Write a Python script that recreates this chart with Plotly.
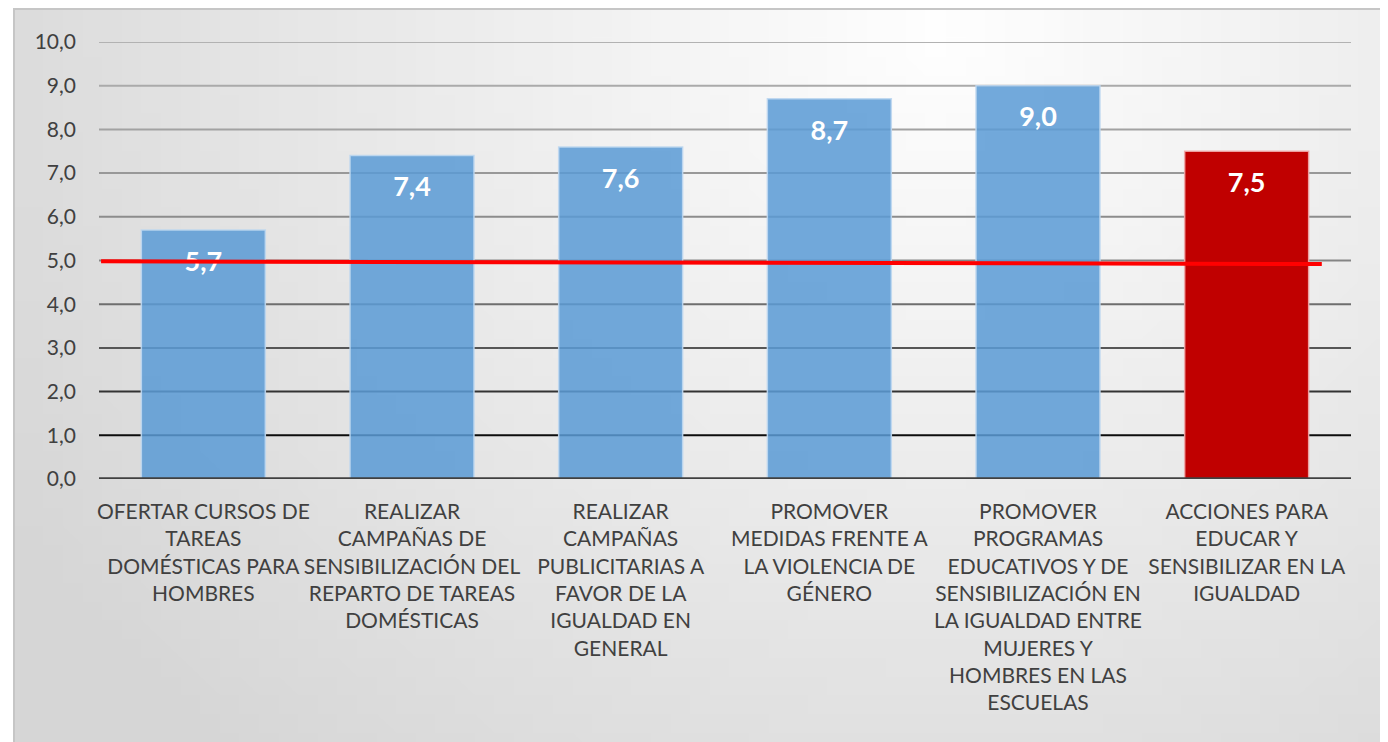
import base64, struct, zlib, math
import plotly.graph_objects as go

# ---------------- data ----------------
categories = [
    "OFERTAR CURSOS DE<br>TAREAS<br>DOMÉSTICAS PARA<br>HOMBRES",
    "REALIZAR<br>CAMPAÑAS DE<br>SENSIBILIZACIÓN DEL<br>REPARTO DE TAREAS<br>DOMÉSTICAS",
    "REALIZAR<br>CAMPAÑAS<br>PUBLICITARIAS A<br>FAVOR DE LA<br>IGUALDAD EN<br>GENERAL",
    "PROMOVER<br>MEDIDAS FRENTE A<br>LA VIOLENCIA DE<br>GÉNERO",
    "PROMOVER<br>PROGRAMAS<br>EDUCATIVOS Y DE<br>SENSIBILIZACIÓN EN<br>LA IGUALDAD ENTRE<br>MUJERES Y<br>HOMBRES EN LAS<br>ESCUELAS",
    "ACCIONES PARA<br>EDUCAR Y<br>SENSIBILIZAR EN LA<br>IGUALDAD",
]
values = [5.7, 7.4, 7.6, 8.7, 9.0, 7.5]
y_ticks = [0, 1, 2, 3, 4, 5, 6, 7, 8, 9, 10]
ref_line_x = [-0.49, 5.36]
ref_line_y = [4.98, 4.92]

# ---------------- styling ----------------
OFF = 8  # default page body margin
W, H = 1388 - OFF, 742 - OFF
L = 99 - OFF
R = W - (1351 - OFF)
T = 42 - OFF
B = H - (479 - OFF)
pw, ph = W - L - R, H - T - B
bar_colors = ["rgba(91,155,213,0.86)"] * 5 + ["#C00000"]
bar_lines = ["rgba(190,215,240,0.9)"] * 5 + ["rgba(240,170,170,0.9)"]
grid_colors = {1: "#0d0d0d", 2: "#333333", 3: "#565656", 4: "#6e6e6e", 5: "#858585",
               6: "#8c8c8c", 7: "#989898", 8: "#a2a2a2", 9: "#aaaaaa", 10: "#b2b2b2"}
FONT = "Lato"

def px2paper_x(px):
    return (px - OFF - L) / pw

def px2paper_y(py):
    return (H - B - (py - OFF)) / ph

# background gradient image (styling only)
def make_png(w, h):
    raw = b""
    cx, cy, rx, ry = 930 / 1372, 20 / 754, 980 / 1372, 880 / 754
    for j in range(h):
        row = b"\x00"
        for i in range(w):
            u, v = i / (w - 1), j / (h - 1)
            r = math.sqrt(((u - cx) / rx) ** 2 + ((v - cy) / ry) ** 2)
            c = int(max(214, 255 - 36 * min(r, 1.25)))
            row += bytes([c, c, c])
        raw += row
    def chunk(t, d):
        return struct.pack(">I", len(d)) + t + d + struct.pack(">I", zlib.crc32(t + d) & 0xffffffff)
    png = b"\x89PNG\r\n\x1a\n" + chunk(b"IHDR", struct.pack(">IIBBBBB", w, h, 8, 2, 0, 0, 0)) \
        + chunk(b"IDAT", zlib.compress(raw)) + chunk(b"IEND", b"")
    return "data:image/png;base64," + base64.b64encode(png).decode()

fx0, fx1 = px2paper_x(14), px2paper_x(1386)
fy1, fy0 = px2paper_y(9), px2paper_y(760)

x_idx = list(range(len(categories)))
label_offset = 34 / (ph / 10)

fig = go.Figure()
fig.add_trace(go.Bar(
    x=x_idx, y=values, width=0.594,
    marker=dict(color=bar_colors, line=dict(color=bar_lines, width=1.5)),
    hoverinfo="skip", showlegend=False,
))
fig.add_trace(go.Scatter(
    x=x_idx, y=[v - label_offset for v in values], mode="text",
    text=[f"{v:.1f}".replace(".", ",") for v in values],
    textposition="middle center",
    textfont=dict(family=FONT, size=27, color="white", weight=700),
    hoverinfo="skip", showlegend=False,
))
fig.add_trace(go.Scatter(
    x=ref_line_x, y=ref_line_y, mode="lines",
    line=dict(color="#FF0000", width=4),
    hoverinfo="skip", showlegend=False,
))

shapes = [dict(type="rect", xref="paper", yref="paper", x0=fx0, x1=fx1, y0=fy0, y1=fy1,
               line=dict(color="#c6c6c6", width=2), fillcolor="rgba(0,0,0,0)", layer="below")]
for t in y_ticks[1:]:
    shapes.append(dict(type="line", xref="paper", yref="y", x0=0, x1=1, y0=t, y1=t,
                       line=dict(color=grid_colors[t], width=2), layer="below"))
shapes.append(dict(type="line", xref="paper", yref="y", x0=0, x1=1, y0=0, y1=0,
                   line=dict(color="#404040", width=3.5), layer="above"))

fig.update_layout(
    width=W, height=H,
    margin=dict(l=L, r=R, t=T, b=B, pad=0, autoexpand=False),
    paper_bgcolor="white", plot_bgcolor="rgba(0,0,0,0)",
    separators=",.",
    showlegend=False,
    shapes=shapes,
    images=[dict(source=make_png(70, 40), xref="paper", yref="paper", x=fx0, y=fy1,
                 sizex=fx1 - fx0, sizey=fy1 - fy0, sizing="stretch", layer="below",
                 xanchor="left", yanchor="top")],
    xaxis=dict(range=[-0.5, 5.5], tickmode="array", tickvals=x_idx, ticktext=categories,
               tickangle=0, automargin=False,
               showgrid=False, zeroline=False, showline=False, ticks="",
               tickfont=dict(family=FONT, size=21, color="#404040"), ticklabelstandoff=18,
               fixedrange=True),
    yaxis=dict(range=[0, 10], tickmode="array", tickvals=y_ticks, tickformat=".1f",
               automargin=False,
               showgrid=False, zeroline=False, showline=False, ticks="",
               tickfont=dict(family=FONT, size=21, color="#404040"), ticklabelstandoff=22,
               fixedrange=True),
)

fig.write_html("out.html")
